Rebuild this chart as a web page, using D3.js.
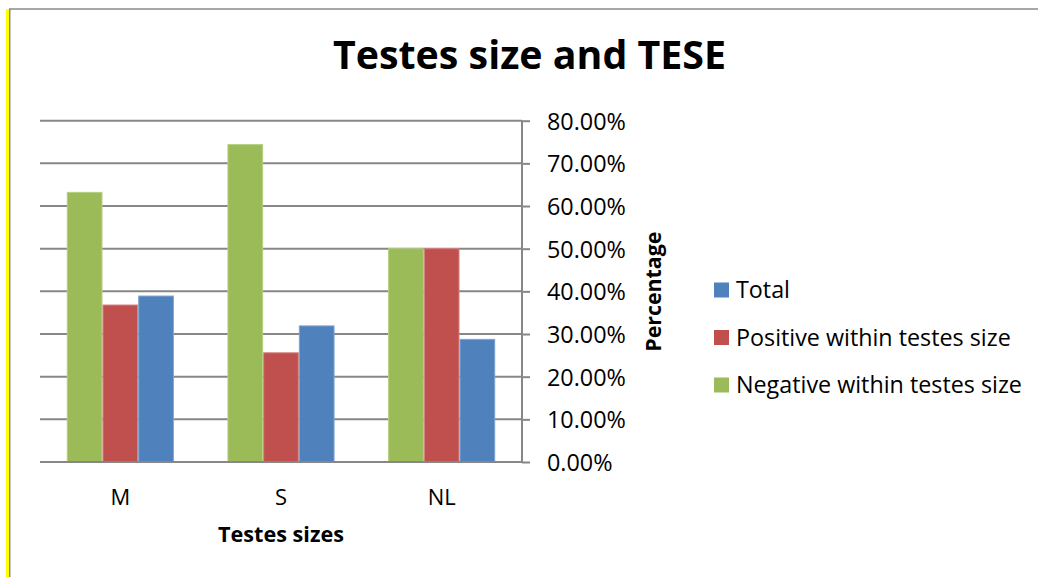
<!DOCTYPE html>
<html>
<head>
<meta charset="utf-8">
<script src="https://cdn.jsdelivr.net/npm/d3@7"></script>
<style>
  body { margin: 0; background: #fff; }
  svg { display: block; font-family: 'Open Sans', sans-serif; }
  .grid line { stroke: #878787; stroke-width: 2; }
  .axis path, .axis line { stroke: #878787; stroke-width: 2; }
  .axis text { fill: #000; }
</style>
</head>
<body>
<svg id="svg" width="1038" height="577"></svg>
<script>
const categories = ['M', 'S', 'NL']
const series = ['Negative within testes size', 'Positive within testes size', 'Total']
const negative = [0.632, 0.744, 0.50]
const positive = [0.368, 0.256, 0.50]
const total = [0.389, 0.319, 0.2875]
const yTicks = [0, 0.1, 0.2, 0.3, 0.4, 0.5, 0.6, 0.7, 0.8]
const legendOrder = ['Total', 'Positive within testes size', 'Negative within testes size']

const COLORS = { 'Negative within testes size': '#9BBB59', 'Positive within testes size': '#C0504D', Total: '#4F81BD' }
const EDGE = { 'Negative within testes size': '#b4cf80', 'Positive within testes size': '#d38583', Total: '#7fa3d1' }
const values = { 'Negative within testes size': negative, 'Positive within testes size': positive, Total: total }

const LEFT = 40
const RIGHT = 522
const TOP = 120.7
const BOTTOM = 462

const svg = d3.select('svg')

// scale a text's font size so it spans the width seen in the picture
function fit (sel, width) {
  const node = sel.node()
  const base = parseFloat(sel.attr('font-size'))
  const w = node.getComputedTextLength()
  sel.attr('font-size', (base * width / w).toFixed(2))
  return base * width / w
}

// frame
svg.append('line').attr('x1', 7.5).attr('x2', 7.5).attr('y1', 9).attr('y2', 577)
  .attr('stroke', '#ffff00').attr('stroke-width', 3)
svg.append('path').attr('d', 'M9.75,577V9H1038')
  .attr('fill', 'none').attr('stroke', '#8a8a8a').attr('stroke-width', 1.5)

const x0 = d3.scaleBand().domain(categories).range([LEFT, RIGHT])
const x1 = d3.scaleBand().domain(series).range([0, x0.bandwidth()])
  .paddingInner(0).paddingOuter(0.75)
const y = d3.scaleLinear().domain([0, 0.8]).range([BOTTOM, TOP])

// gridlines
svg.append('g').attr('class', 'grid')
  .selectAll('line').data(yTicks).join('line')
  .attr('x1', LEFT).attr('x2', RIGHT)
  .attr('y1', d => y(d)).attr('y2', d => y(d))

// bars
const groups = svg.append('g').selectAll('g').data(categories).join('g')
  .attr('transform', d => 'translate(' + x0(d) + ',0)')
groups.selectAll('rect')
  .data((c, i) => series.map(s => ({ s, v: values[s][i] })))
  .join('rect')
  .attr('x', d => x1(d.s) + 0.5)
  .attr('width', x1.bandwidth() - 1)
  .attr('y', d => y(d.v))
  .attr('height', d => BOTTOM - y(d.v))
  .attr('fill', d => COLORS[d.s])
  .attr('stroke', d => EDGE[d.s])
  .attr('stroke-width', 1)

// baseline
svg.append('line').attr('x1', LEFT).attr('x2', RIGHT).attr('y1', BOTTOM).attr('y2', BOTTOM)
  .attr('stroke', '#878787').attr('stroke-width', 2)

// right value axis
const yAxis = svg.append('g').attr('class', 'axis')
  .attr('transform', 'translate(' + RIGHT + ',0)')
  .call(d3.axisRight(y).tickValues(yTicks).tickSize(8).tickPadding(17)
    .tickFormat(d => (d * 100).toFixed(2) + '%'))
yAxis.attr('font-family', null).attr('font-size', null)
yAxis.select('.domain').attr('d', 'M0,' + TOP + 'V' + BOTTOM)
const tickTexts = yAxis.selectAll('text').attr('dy', '0.36em').attr('font-size', 22)
const tickSize = fit(d3.select(tickTexts.nodes()[tickTexts.size() - 1]), 79)
tickTexts.attr('font-size', tickSize.toFixed(2))

// category labels
const catText = svg.append('g').selectAll('text').data(categories).join('text')
  .attr('x', d => x0(d) + x0.bandwidth() / 2)
  .attr('y', 505)
  .attr('text-anchor', 'middle')
  .attr('font-size', 22)
  .text(d => d)
const catSize = fit(d3.select(catText.nodes()[2]), 28)
catText.attr('font-size', catSize.toFixed(2))

// titles
fit(svg.append('text').attr('x', 529.5).attr('y', 68.5).attr('text-anchor', 'middle')
  .attr('font-size', 36).attr('font-weight', 'bold').text('Testes size and TESE'), 393)
fit(svg.append('text').attr('x', 281).attr('y', 542).attr('text-anchor', 'middle')
  .attr('font-size', 22).attr('font-weight', 'bold').text('Testes sizes'), 126)
fit(svg.append('text').attr('transform', 'translate(661,291.7) rotate(-90)')
  .attr('text-anchor', 'middle')
  .attr('font-size', 22).attr('font-weight', 'bold').text('Percentage'), 120)

// legend
const leg = svg.append('g').selectAll('g').data(legendOrder).join('g')
  .attr('transform', (d, i) => 'translate(714,' + (290 + i * 47.5) + ')')
leg.append('rect').attr('x', 0).attr('y', -7.5).attr('width', 15).attr('height', 15)
  .attr('fill', d => COLORS[d])
const legText = leg.append('text').attr('x', 22).attr('dy', '0.36em').attr('font-size', 23).text(d => d)
const legSize = fit(d3.select(legText.nodes()[2]), 286)
legText.attr('font-size', legSize.toFixed(2))
</script>
</body>
</html>
